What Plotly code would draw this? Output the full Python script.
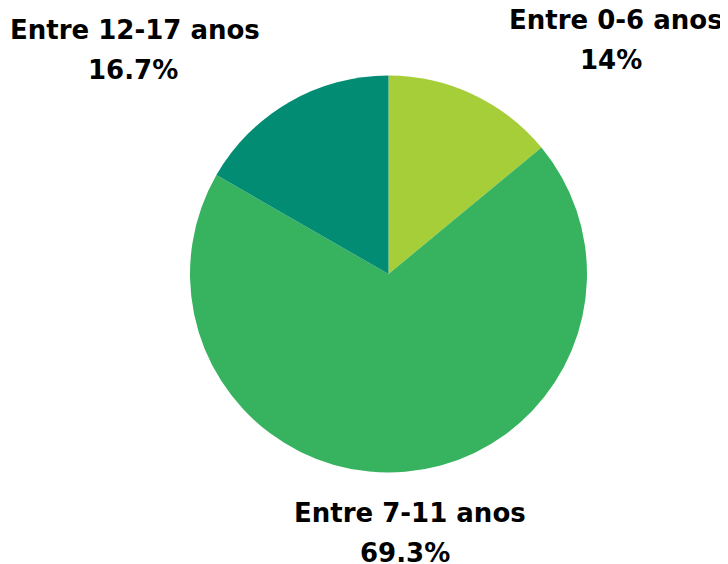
import plotly.graph_objects as go

labels = ["Entre 0-6 anos", "Entre 7-11 anos", "Entre 12-17 anos"]
values = [14.0, 69.3, 16.7]
value_text = ["14%", "69.3%", "16.7%"]
colors = ["#A6CE39", "#37B35F", "#028C73"]

W, H = 728, 564
OFF = 8  # page body margin
# label anchor pixel centers (line1, line2)
label_pos = [((616, 20), (611, 60)), ((410, 513), (405, 553)), ((135, 30), (133, 70))]

cx, cy, r = 388.5 - OFF, 274 - OFF, 198.5
fig = go.Figure(go.Pie(
    labels=labels, values=values, sort=False, direction="clockwise", rotation=0,
    marker=dict(colors=colors, line=dict(width=0)),
    textinfo="none", hoverinfo="label+percent", showlegend=False,
    domain=dict(x=[(cx - r) / W, (cx + r) / W],
                y=[1 - (cy + r) / H, 1 - (cy - r) / H]),
))

font = dict(family="DejaVu Sans", size=26, color="#000000", weight="bold")
for lab, vt, ((x1, y1), (x2, y2)) in zip(labels, value_text, label_pos):
    fig.add_annotation(text=lab, x=(x1 - OFF) / W, y=1 - (y1 - OFF) / H, xref="paper", yref="paper",
                       showarrow=False, xanchor="center", yanchor="middle", font=font)
    fig.add_annotation(text=vt, x=(x2 - OFF) / W, y=1 - (y2 - OFF) / H, xref="paper", yref="paper",
                       showarrow=False, xanchor="center", yanchor="middle", font=font)

fig.update_layout(width=W, height=H, margin=dict(l=0, r=0, t=0, b=0),
                  paper_bgcolor="white", plot_bgcolor="white")
fig.write_html("out.html")
